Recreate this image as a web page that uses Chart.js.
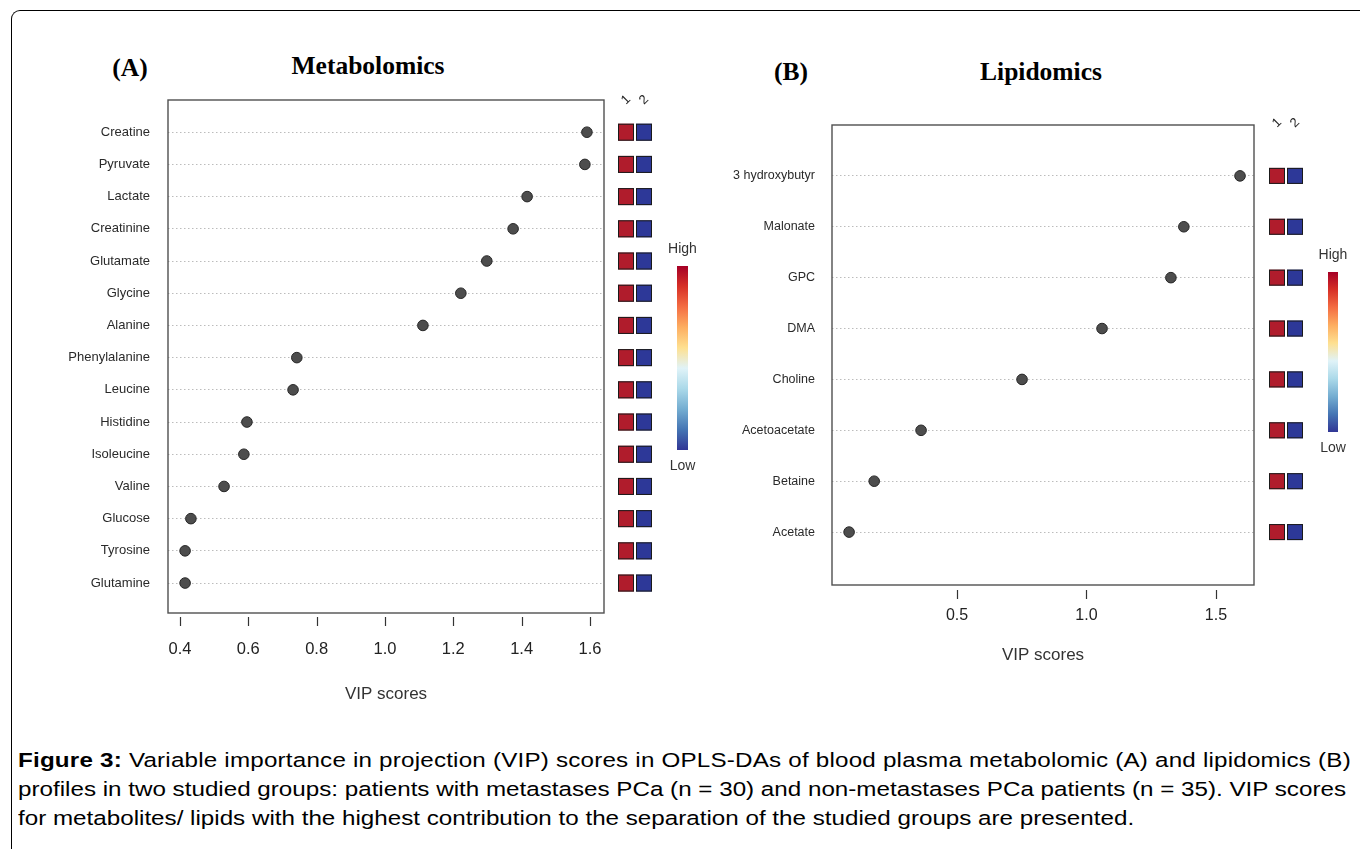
<!DOCTYPE html>
<html>
<head>
<meta charset="utf-8">
<script src="https://cdn.jsdelivr.net/npm/chart.js@4.4.0/dist/chart.umd.min.js"></script>
<style>
  html, body { margin:0; padding:0; background:#fff; width:1360px; height:849px; overflow:hidden; }
  #frame { position:absolute; left:11px; top:10px; width:1400px; height:900px; border-left:1.5px solid #000; border-top:1.5px solid #000; border-top-left-radius:9px; }
  .cv { position:absolute; top:0; }
  .ttl { position:absolute; font-family:"Liberation Serif","Times New Roman",serif; font-weight:bold; font-size:25.5px; color:#000; transform:translate(-50%,-50%); white-space:nowrap; }
  .cap { position:absolute; left:18px; font-family:"Liberation Sans",Arial,sans-serif; font-size:20.5px; color:#000; white-space:nowrap; line-height:29px; transform:scaleX(1.18); transform-origin:0 50%; }
</style>
</head>
<body>
<div id="frame"></div>
<div class="ttl" style="left:130px; top:68px;">(A)</div>
<div class="ttl" style="left:368px; top:66px;">Metabolomics</div>
<div class="ttl" style="left:791px; top:72px;">(B)</div>
<div class="ttl" style="left:1041px; top:72px;">Lipidomics</div>
<canvas id="cA" class="cv" style="left:0px;" width="710" height="720"></canvas>
<canvas id="cB" class="cv" style="left:710px;" width="650" height="720"></canvas>
<div class="cap" style="top:745px; letter-spacing:0.17px;"><b>Figure 3:</b> Variable importance in projection (VIP) scores in OPLS-DAs of blood plasma metabolomic (A) and lipidomics (B)</div>
<div class="cap" style="top:774px;">profiles in two studied groups: patients with metastases PCa (n = 30) and non-metastases PCa patients (n = 35). VIP scores</div>
<div class="cap" style="top:803px;">for metabolites/ lipids with the highest contribution to the separation of the studied groups are presented.</div>
<script>
// ---- data ----
const namesA = ["Creatine","Pyruvate","Lactate","Creatinine","Glutamate","Glycine","Alanine","Phenylalanine","Leucine","Histidine","Isoleucine","Valine","Glucose","Tyrosine","Glutamine"];
const vipA   = [1.591,1.585,1.416,1.375,1.298,1.222,1.111,0.742,0.731,0.596,0.587,0.529,0.432,0.415,0.415];
const heatA1 = [1,1,1,1,1,1,1,1,1,1,1,1,1,1,1];   // group 1 relative level
const heatA2 = [0,0,0,0,0,0,0,0,0,0,0,0,0,0,0];   // group 2 relative level
const ticksA = [0.4,0.6,0.8,1.0,1.2,1.4,1.6];

const namesB = ["3 hydroxybutyr","Malonate","GPC","DMA","Choline","Acetoacetate","Betaine","Acetate"];
const vipB   = [1.593,1.376,1.326,1.060,0.751,0.361,0.180,0.083];
const heatB1 = [1,1,1,1,1,1,1,1];
const heatB2 = [0,0,0,0,0,0,0,0];
const ticksB = [0.5,1.0,1.5];

const groupLabels = ["1","2"];

// ---- styling ----
const FONT = "'Liberation Sans', Arial, sans-serif";
const RDYLBU = ["#a50026","#d73027","#f46d43","#fdae61","#fee090","#e0f3f8","#abd9e9","#74add1","#4575b4","#313695"];
function heatColor(v){ return v >= 0.5 ? "#b01c2c" : "#2d3898"; }

function makeDecor(cfg){
  return {
    id: 'decor',
    afterDraw(chart){
      const ctx = chart.ctx, a = chart.chartArea, xs = chart.scales.x, ys = chart.scales.y;
      ctx.save();
      // plot box
      ctx.strokeStyle = "#505050"; ctx.lineWidth = 1.4;
      ctx.strokeRect(a.left, a.top, a.right - a.left, a.bottom - a.top);
      // x tick marks (separated from box)
      ctx.strokeStyle = "#333"; ctx.lineWidth = 1.2;
      cfg.ticks.forEach(t => {
        const px = Math.round(xs.getPixelForValue(t)) + 0.5;
        ctx.beginPath(); ctx.moveTo(px, a.bottom + cfg.tk0); ctx.lineTo(px, a.bottom + cfg.tk1); ctx.stroke();
      });
      // heat squares
      cfg.h1.forEach((v, i) => {
        const py = ys.getPixelForValue(i);
        [[cfg.sqX1, v], [cfg.sqX2, cfg.h2[i]]].forEach(([sx, val]) => {
          ctx.fillStyle = heatColor(val);
          ctx.fillRect(sx, py - cfg.sqH/2, cfg.sqW, cfg.sqH);
          ctx.strokeStyle = "#1a1a1a"; ctx.lineWidth = 1;
          ctx.strokeRect(sx + 0.5, py - cfg.sqH/2 + 0.5, cfg.sqW - 1, cfg.sqH - 1);
        });
      });
      // group labels, rotated
      ctx.fillStyle = "#222"; ctx.font = "13px " + FONT;
      ctx.textAlign = "center"; ctx.textBaseline = "middle";
      groupLabels.forEach((g, k) => {
        const gx = (k === 0 ? cfg.sqX1 : cfg.sqX2) + cfg.sqW/2;
        ctx.save(); ctx.translate(gx, cfg.glY); ctx.rotate(-Math.PI/4); ctx.fillText(g, 0, 0); ctx.restore();
      });
      // colour bar
      const grd = ctx.createLinearGradient(0, cfg.cbTop, 0, cfg.cbBot);
      RDYLBU.forEach((c, i) => grd.addColorStop(i/(RDYLBU.length-1), c));
      ctx.fillStyle = grd;
      ctx.fillRect(cfg.cbX, cfg.cbTop, cfg.cbW, cfg.cbBot - cfg.cbTop);
      ctx.fillStyle = "#333"; ctx.font = "14px " + FONT;
      ctx.fillText("High", cfg.cbX + cfg.cbW/2, cfg.cbTop - 17);
      ctx.fillText("Low", cfg.cbX + cfg.cbW/2, cfg.cbBot + 16);
      ctx.restore();
    }
  };
}

function build(id, names, vip, h1, h2, ticks, geo){
  const data = vip.map((v, i) => ({x: v, y: i}));
  new Chart(document.getElementById(id), {
    type: 'scatter',
    data: { datasets: [{ data, pointRadius: 5.3, pointHoverRadius: 5.3, backgroundColor: "#4d4d4d", borderColor: "#262626", borderWidth: 1 }] },
    options: {
      responsive: false, animation: false, devicePixelRatio: 1,
      layout: { padding: { left: 0, top: geo.padTop, right: geo.padRight, bottom: geo.padBottom } },
      plugins: { legend: { display: false }, tooltip: { enabled: false } },
      scales: {
        x: {
          type: 'linear', min: geo.xmin, max: geo.xmax,
          afterBuildTicks: s => { s.ticks = ticks.map(v => ({value: v})); },
          afterFit: s => { s.height = 100; },
          grid: { display: false, drawTicks: false },
          border: { display: false },
          ticks: { padding: geo.xPad, color: "#222", font: { family: FONT, size: geo.xFont }, callback: v => Number(v).toFixed(1), maxRotation: 0, autoSkip: false },
          title: { display: true, text: "VIP scores", color: "#333", font: { family: FONT, size: 17 }, padding: { top: 0, bottom: geo.titlePad } }
        },
        y: {
          type: 'linear', reverse: true, min: -1, max: geo.ymax,
          afterBuildTicks: s => { s.ticks = names.map((_, i) => ({value: i})); },
          afterFit: s => { s.width = geo.yW; },
          grid: { color: "#bcbcbc", lineWidth: 1, drawTicks: false },
          border: { display: false, dash: [1.5, 2.5] },
          ticks: { padding: geo.yPad, color: "#2a2a2a", font: { family: FONT, size: geo.yFont }, callback: v => names[v] ?? "", autoSkip: false }
        }
      }
    },
    plugins: [makeDecor(Object.assign({ticks, h1, h2}, geo.decor))]
  });
}

build('cA', namesA, vipA, heatA1, heatA2, ticksA, {
  padTop: 100, padRight: 106, padBottom: 7, yW: 168, xmin: 0.365, xmax: 1.641, ymax: 14.93,
  xPad: 27, xFont: 16.5, titlePad: 8, yPad: 18, yFont: 13,
  decor: { tk0: 4, tk1: 13, sqX1: 618, sqX2: 636, sqW: 16, sqH: 17, glY: 100, cbX: 677, cbW: 11, cbTop: 266, cbBot: 450 }
});
build('cB', namesB, vipB, heatB1, heatB2, ticksB, {
  padTop: 125, padRight: 106, padBottom: 35, yW: 122, xmin: 0.017, xmax: 1.647, ymax: 8.04,
  xPad: 21, xFont: 16, titlePad: 19, yPad: 17, yFont: 12.5,
  decor: { tk0: 5, tk1: 14, sqX1: 559, sqX2: 577, sqW: 16, sqH: 16, glY: 123, cbX: 618, cbW: 10, cbTop: 272, cbBot: 432 }
});
</script>
</body>
</html>
